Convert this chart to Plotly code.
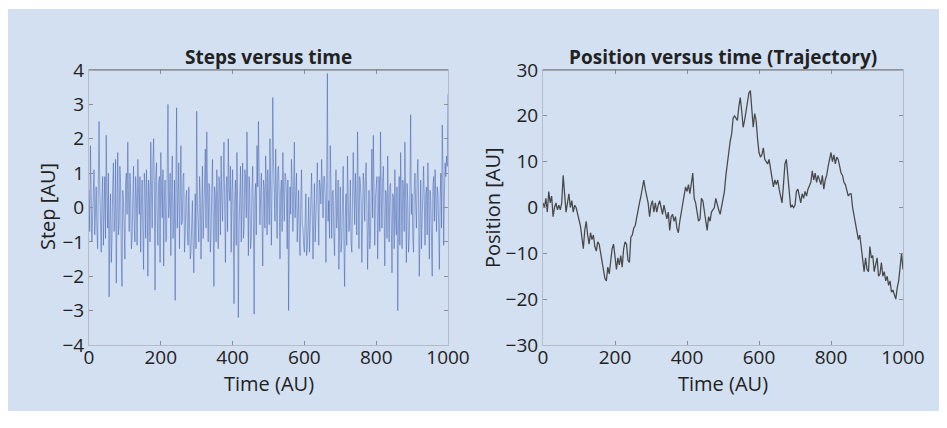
import plotly.graph_objects as go

# ---- data ----
step_time = list(range(0, 1001, 2))
step_values = [
 0.5, -0.7, 1.8, 0.4, -1.0, -0.3, 0.3, 1.1, -0.8, -0.2,
 0.6, -0.6, -1.2, 0.8, 2.5, 0.5, -0.4, -1.3, 0.2, 0.9,
 -1.1, 0.1, 0.9, -0.9, 2.1, 0.3, -0.6, 1.0, -2.6, -0.4,
 0.4, -1.6, -0.9, 0.6, 1.3, -0.7, -0.3, 1.4, -2.2, -0.1,
 1.6, -0.8, -0.5, 1.2, 0.7, -1.4, -2.3, 0.5, 0.2, -0.6,
 -1.5, 0.7, 1.0, -0.2, 1.9, 0.4, -0.7, 1.0, 0.5, -1.2,
 -0.9, 0.2, 1.2, -0.5, -1.0, 0.9, 0.3, -1.1, 1.4, 0.4,
 -0.2, 0.9, -1.3, 0.1, 0.8, -0.6, -1.8, 1.0, 0.6, -0.9,
 1.1, 0.3, -2.0, 0.8, 0.4, -1.0, 1.9, 0.5, -0.6, 1.3,
 2.0, 0.6, -2.4, 0.9, 1.3, -0.4, -1.1, 0.7, 0.9, -1.6,
 1.6, 0.4, -0.3, 1.1, -1.7, 0.2, 0.8, -1.0, -0.9, 1.2,
 3.0, -0.3, 0.1, 1.0, -1.4, 0.5, 1.5, -0.9, -0.5, 0.8,
 -2.7, 0.6, 2.9, -0.6, 0.3, 1.3, -1.2, 0.4, 1.8, -0.5,
 -0.4, 0.9, 1.0, -1.3, -0.8, 0.3, 0.5, -0.7, -1.1, 0.6,
 -0.6, -1.5, -1.3, -0.2, 0.2, -1.1, -1.9, -0.5, 0.4, -1.2,
 2.8, 0.1, -0.7, -1.0, 0.9, 0.3, -1.5, 0.2, 1.2, -0.9,
 -0.3, 0.8, 1.7, -0.6, 2.2, 0.4, -1.0, 0.7, 0.6, -1.3,
 -0.8, 0.5, 1.4, -0.4, -2.3, 0.6, 0.3, -1.0, 1.1, 0.2,
 -1.2, 0.9, 0.7, -0.8, 1.5, 0.3, -0.4, 0.8, 1.9, 0.1,
 -1.6, 0.6, 0.9, -0.7, 2.0, 0.5, 0.2, 1.2, -1.3, 0.4,
 1.1, -0.5, -2.8, 0.3, 0.8, -1.1, 1.6, 0.2, -3.2, -0.6,
 0.5, 1.2, -1.0, 0.4, 1.3, -0.9, -0.6, 1.1, 0.9, -0.3,
 2.2, 0.6, -1.4, 0.9, 0.4, -1.2, -0.9, 0.5, 1.2, -0.4,
 -3.1, 0.3, 0.7, -0.8, 1.8, 0.6, 2.5, 0.9, -0.5, 0.3,
 1.0, -0.4, -1.7, 0.8, 0.6, -0.6, 1.5, 0.7, -0.8, 1.1,
 0.3, -0.5, 2.0, 0.8, -1.1, 0.9, 3.2, 1.3, 0.5, -0.4,
 1.7, 0.6, -0.9, 1.1, 1.2, 0.2, -1.5, 0.5, 0.8, -0.7,
 1.6, 0.4, -0.4, 1.0, 0.9, 0.3, -1.2, 0.8, -3.0, -0.6,
 0.6, -0.2, 1.4, 0.7, -0.7, 0.5, 1.9, -0.3, 0.2, 1.0,
 -1.0, 0.4, 0.5, -0.9, -1.4, 0.2, 1.1, -0.5, -0.6, -1.1,
 -1.3, -0.4, 0.4, -1.4, -1.2, -0.6, 0.3, -1.3, -0.8, 0.2,
 1.0, -0.7, -1.5, -0.3, 0.7, -1.0, -0.5, 0.4, 1.3, -0.2,
 -1.1, 0.8, 0.6, 0.1, 1.4, 0.6, -0.3, 0.9, 0.9, 0.3,
 -1.6, 0.5, 3.9, -0.4, 0.2, -0.9, 1.8, 0.7, -0.9, 0.4,
 0.5, -0.8, -1.4, 0.2, 1.1, -0.6, -0.2, 0.8, -1.8, -0.5,
 0.6, -1.3, -1.0, 0.1, 1.2, -0.9, -2.3, -0.3, 0.4, -1.1,
 1.5, 0.3, -0.7, -0.4, 0.8, -1.0, -1.3, 0.2, 1.6, 0.5,
 -0.5, 1.0, 0.3, -0.8, 2.2, 0.4, -1.2, 0.9, 0.7, 0.2,
 -1.6, -0.3, 1.0, 0.6, -0.4, 0.9, 1.3, 0.1, -1.8, -0.6,
 0.5, -1.2, -0.9, 0.4, 1.7, -0.3, 2.1, 0.5, -1.1, 0.3,
 0.6, 0.9, -1.5, 0.2, 0.9, -0.7, 2.2, 0.4, -0.6, 0.8,
 1.2, -0.2, -1.7, 0.5, 0.4, -0.9, 1.5, 0.1, -1.0, 0.6,
 0.7, -0.5, -1.9, 0.4, 0.3, -1.2, 1.1, -0.4, -0.8, 0.6,
 -3.0, -0.6, 0.9, -1.1, 1.6, 0.3, -1.2, 0.8, 0.5, -0.7,
 1.9, 0.2, -1.6, 0.7, 0.2, -1.3, -0.9, 0.5, 2.7, -0.2,
 0.4, -0.9, -1.3, 0.6, 1.0, 0.1, -0.6, 0.8, 1.4, 0.3,
 -2.0, -0.5, 0.8, -1.2, -0.4, 0.6, 1.2, 0.2, -1.1, 0.4,
 0.6, -0.8, 1.3, 0.2, -1.5, 0.5, 0.2, -0.9, -2.0, 0.6,
 0.9, -0.4, 1.1, 0.3, -0.7, 0.6, 0.4, -0.5, -1.8, 0.2,
 1.0, -0.6, 2.4, 1.1, -1.1, 0.4, 1.3, 0.9, 1.5, 1.2,
 3.3,
]

pos_time = list(range(0, 1001, 4))
pos_values = [
 1, 0, 2, -1, 3.5, 1, 2.5, -2, 0, 1,
 -0.5, 0.5, -0.5, 1, 7, 2, -1, 1, 3, 0,
 1.5, -1, 0.5, 0, -1.5, -3, -4, -6.5, -9, -5,
 -3, -6, -8, -5.5, -7, -6, -8.5, -9.5, -7.5, -8,
 -10, -12, -13.5, -15.5, -16, -13, -14.5, -11.5, -9, -8,
 -11.5, -13.5, -11, -12.5, -10.5, -13, -9, -7.5, -8, -11.5,
 -12, -6.5, -6, -4.5, -4, -2, -1, 1, 2.5, 4,
 6, 4, 2.5, 1, -2, 0.5, 1.5, -1, 1, -1,
 0.5, 1.5, 0, -1.5, 0.5, -1, -2.5, -1, -5, -2,
 -1.5, -3, -2, -4.5, -5.5, -3, -1, 1.5, 3, 4.5,
 3.5, 5, 3, 5.5, 7.5, 2, 1, -1, -3, -2.5,
 2, 1.5, -1, -2.5, -5, -2, -3, -1, -0.5, 0,
 2, 0.5, -0.5, -1.5, 0, 1.5, 3.5, 7, 9, 12,
 14.5, 16, 19.5, 20, 19.5, 19, 22, 24, 21, 17.5,
 19, 21, 22.5, 25, 25.5, 20.5, 17.5, 20.5, 19, 15,
 12, 11, 11.5, 13, 10.5, 10, 9.5, 10.5, 8, 6.5,
 4.5, 6, 5, 6, 4, 2.5, 1, 5, 9.5, 10.5,
 7, 3, 0, 0.5, 0, 0.5, 3.5, 4, 2, 1,
 3, 2, 3.5, 2.5, 4, 5, 5.5, 8, 6, 7.5,
 5.5, 7, 6, 5, 7, 4, 6, 7, 9, 11,
 12, 10, 11.5, 9.5, 11, 10.5, 9, 7.5, 7, 5.5,
 5, 3.5, 2.5, 3, 3, 0, -2, -3, -5, -7,
 -6, -9, -12, -14, -11, -13.5, -14, -8.5, -11, -10.5,
 -14, -12, -11, -15, -14.5, -12, -15, -14, -16, -15,
 -17, -16, -18.5, -18, -19, -20, -17.5, -16, -13, -10,
 -13.5,
]

x_ticks = [0, 200, 400, 600, 800, 1000]
step_ticks = [-4, -3, -2, -1, 0, 1, 2, 3, 4]
pos_ticks = [-30, -20, -10, 0, 10, 20, 30]

# ---- styling / geometry (page pixels; the page body has an 8px margin) ----
OFF = 8
FW, FH = 947 - OFF, 428 - OFF


def fx(px):
    return (px - OFF) / FW


def fy(py):
    return 1 - (py - OFF) / FH


OUTER = "rgb(211,224,241)"
PLOT_BG = "rgb(222,230,245)"
FONT = "Open Sans"
TXT = "#222222"

fig = go.Figure()
fig.add_trace(go.Scatter(x=step_time, y=step_values, mode="lines",
                         line=dict(color="rgba(60,90,175,0.68)", width=0.75),
                         xaxis="x", yaxis="y", showlegend=False))
fig.add_trace(go.Scatter(x=pos_time, y=pos_values, mode="lines",
                         line=dict(color="rgba(55,55,55,0.9)", width=1.25),
                         xaxis="x2", yaxis="y2", showlegend=False))

ydom = [fy(345), fy(70)]

common_axis = dict(showgrid=False, zeroline=False, ticks="inside", ticklen=4,
                   tickcolor="#8a8f99", tickwidth=1, showline=True,
                   linecolor="#b5bcc8", linewidth=1, mirror="ticks",
                   automargin=False,
                   tickfont=dict(family=FONT, size=19, color=TXT))
xaxis_extra = dict(ticklabelstandoff=-5)
title_font = dict(family=FONT, size=20, color=TXT)


def minus(vals):
    return [str(v).replace("-", "\u2212") for v in vals]


fig.update_layout(
    width=FW, height=FH, margin=dict(l=0, r=0, t=0, b=0, autoexpand=False),
    paper_bgcolor="white", plot_bgcolor=PLOT_BG,
    xaxis=dict(domain=[fx(89), fx(448)], range=[0, 1000], tickvals=x_ticks,
               anchor="y", **common_axis, **xaxis_extra),
    yaxis=dict(domain=ydom, range=[-4, 4], tickvals=step_ticks,
               ticktext=minus(step_ticks), anchor="x", **common_axis),
    xaxis2=dict(domain=[fx(543), fx(903)], range=[0, 1000], tickvals=x_ticks,
                anchor="y2", **common_axis, **xaxis_extra),
    yaxis2=dict(domain=ydom, range=[-30, 30], tickvals=pos_ticks,
                ticktext=minus(pos_ticks), anchor="x2", **common_axis),
    shapes=[
        dict(type="rect", xref="paper", yref="paper", layer="below",
             x0=0, x1=fx(941), y0=fy(411), y1=fy(9),
             fillcolor=OUTER, line=dict(width=0)),
        dict(type="line", xref="x domain", yref="y domain", x0=0, x1=1, y0=1, y1=1,
             line=dict(color="#6e6e6e", width=1.2)),
        dict(type="line", xref="x2 domain", yref="y2 domain", x0=0, x1=1, y0=1, y1=1,
             line=dict(color="#6e6e6e", width=1.2)),
    ],
    annotations=[
        dict(text="<b>Steps versus time</b>", xref="x domain", yref="paper",
             x=0.5, y=fy(57), xanchor="center", yanchor="middle", showarrow=False,
             font=dict(family=FONT, size=19, color=TXT)),
        dict(text="<b>Position versus time (Trajectory)</b>", xref="x2 domain", yref="paper",
             x=0.5, y=fy(57), xanchor="center", yanchor="middle", showarrow=False,
             font=dict(family=FONT, size=19, color=TXT)),
        dict(text="Time (AU)", xref="x domain", yref="paper", x=0.5, y=fy(383),
             xanchor="center", yanchor="middle", showarrow=False, font=title_font),
        dict(text="Time (AU)", xref="x2 domain", yref="paper", x=0.5, y=fy(383),
             xanchor="center", yanchor="middle", showarrow=False, font=title_font),
        dict(text="Step [AU]", xref="paper", yref="paper", x=fx(47), y=fy(207),
             xanchor="center", yanchor="middle", textangle=-90, showarrow=False, font=title_font),
        dict(text="Position [AU]", xref="paper", yref="paper", x=fx(492), y=fy(207),
             xanchor="center", yanchor="middle", textangle=-90, showarrow=False, font=title_font),
    ],
)

fig.write_html("out.html")
